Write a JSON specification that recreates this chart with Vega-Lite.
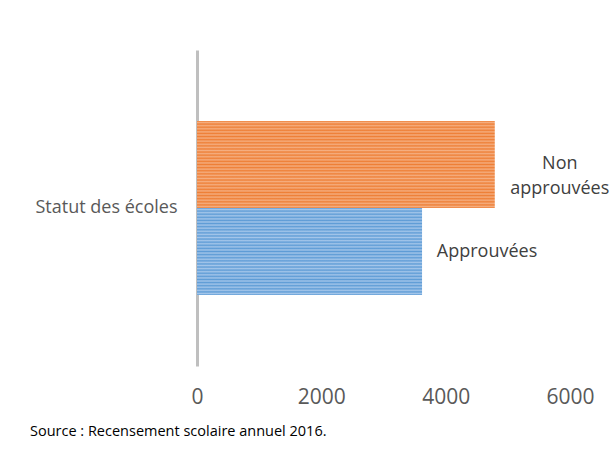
{
  "$schema": "https://vega.github.io/schema/vega-lite/v6.json",
  "width": 373,
  "height": 316,
  "autosize": {"type": "none"},
  "padding": {"left": 197, "top": 50, "right": 44, "bottom": 85},
  "background": "white",
  "config": {"view": {"stroke": null}, "font": "Open Sans"},
  "title": {
    "text": "Source : Recensement scolaire annuel 2016.",
    "orient": "bottom",
    "anchor": "start",
    "frame": "group",
    "dx": -167,
    "offset": 18,
    "fontSize": 14.5,
    "fontWeight": "normal",
    "color": "#000000",
    "font": "Open Sans"
  },
  "data": {
    "values": [
      {"statut": "Statut des écoles", "serie": "Non approuvées", "label": "Non\napprouvées", "valeur": 4790},
      {"statut": "Statut des écoles", "serie": "Approuvées", "label": "Approuvées", "valeur": 3620}
    ]
  },
  "encoding": {
    "y": {
      "field": "statut",
      "type": "nominal",
      "title": null,
      "scale": {"paddingInner": 0, "paddingOuter": 0.408},
      "axis": {
        "ticks": false,
        "domain": true,
        "domainColor": "#bfbfbf",
        "domainWidth": 3,
        "labelFontSize": 18,
        "labelColor": "#595959",
        "labelPadding": 20,
        "labelFont": "Open Sans"
      }
    },
    "yOffset": {
      "field": "serie",
      "type": "nominal",
      "scale": {"domain": ["Non approuvées", "Approuvées"], "paddingInner": 0, "paddingOuter": 0}
    },
    "x": {
      "field": "valeur",
      "type": "quantitative",
      "title": null,
      "scale": {"domain": [0, 6000], "nice": false},
      "axis": {
        "values": [0, 2000, 4000, 6000],
        "format": "d",
        "grid": false,
        "domain": false,
        "ticks": false,
        "labelFontSize": 21,
        "labelColor": "#595959",
        "labelPadding": 20,
        "labelFont": "Open Sans",
        "labelFlush": false
      }
    }
  },
  "layer": [
    {
      "transform": [{"filter": "datum.serie === 'Non approuvées'"}],
      "mark": {
        "type": "bar",
        "fill": {
          "gradient": "linear", "x1": 0, "y1": 0, "x2": 0, "y2": 1,
          "stops": [
            {"offset": 0, "color": "#EE7F36"}, {"offset": 0.0179, "color": "#F5AE80"},
            {"offset": 0.0357, "color": "#EE7F36"}, {"offset": 0.0536, "color": "#F5AE80"},
            {"offset": 0.0714, "color": "#EE7F36"}, {"offset": 0.0893, "color": "#F5AE80"},
            {"offset": 0.1071, "color": "#EE7F36"}, {"offset": 0.125, "color": "#F5AE80"},
            {"offset": 0.1429, "color": "#EE7F36"}, {"offset": 0.1607, "color": "#F5AE80"},
            {"offset": 0.1786, "color": "#EE7F36"}, {"offset": 0.1964, "color": "#F5AE80"},
            {"offset": 0.2143, "color": "#EE7F36"}, {"offset": 0.2321, "color": "#F5AE80"},
            {"offset": 0.25, "color": "#EE7F36"}, {"offset": 0.2679, "color": "#F5AE80"},
            {"offset": 0.2857, "color": "#EE7F36"}, {"offset": 0.3036, "color": "#F5AE80"},
            {"offset": 0.3214, "color": "#EE7F36"}, {"offset": 0.3393, "color": "#F5AE80"},
            {"offset": 0.3571, "color": "#EE7F36"}, {"offset": 0.375, "color": "#F5AE80"},
            {"offset": 0.3929, "color": "#EE7F36"}, {"offset": 0.4107, "color": "#F5AE80"},
            {"offset": 0.4286, "color": "#EE7F36"}, {"offset": 0.4464, "color": "#F5AE80"},
            {"offset": 0.4643, "color": "#EE7F36"}, {"offset": 0.4821, "color": "#F5AE80"},
            {"offset": 0.5, "color": "#EE7F36"}, {"offset": 0.5179, "color": "#F5AE80"},
            {"offset": 0.5357, "color": "#EE7F36"}, {"offset": 0.5536, "color": "#F5AE80"},
            {"offset": 0.5714, "color": "#EE7F36"}, {"offset": 0.5893, "color": "#F5AE80"},
            {"offset": 0.6071, "color": "#EE7F36"}, {"offset": 0.625, "color": "#F5AE80"},
            {"offset": 0.6429, "color": "#EE7F36"}, {"offset": 0.6607, "color": "#F5AE80"},
            {"offset": 0.6786, "color": "#EE7F36"}, {"offset": 0.6964, "color": "#F5AE80"},
            {"offset": 0.7143, "color": "#EE7F36"}, {"offset": 0.7321, "color": "#F5AE80"},
            {"offset": 0.75, "color": "#EE7F36"}, {"offset": 0.7679, "color": "#F5AE80"},
            {"offset": 0.7857, "color": "#EE7F36"}, {"offset": 0.8036, "color": "#F5AE80"},
            {"offset": 0.8214, "color": "#EE7F36"}, {"offset": 0.8393, "color": "#F5AE80"},
            {"offset": 0.8571, "color": "#EE7F36"}, {"offset": 0.875, "color": "#F5AE80"},
            {"offset": 0.8929, "color": "#EE7F36"}, {"offset": 0.9107, "color": "#F5AE80"},
            {"offset": 0.9286, "color": "#EE7F36"}, {"offset": 0.9464, "color": "#F5AE80"},
            {"offset": 0.9643, "color": "#EE7F36"}, {"offset": 0.9821, "color": "#F5AE80"},
            {"offset": 1, "color": "#EE7F36"}
          ]
        }
      }
    },
    {
      "transform": [{"filter": "datum.serie === 'Approuvées'"}],
      "mark": {
        "type": "bar",
        "fill": {
          "gradient": "linear", "x1": 0, "y1": 0, "x2": 0, "y2": 1,
          "stops": [
            {"offset": 0, "color": "#5E9CD6"}, {"offset": 0.0179, "color": "#A4C6EA"},
            {"offset": 0.0357, "color": "#5E9CD6"}, {"offset": 0.0536, "color": "#A4C6EA"},
            {"offset": 0.0714, "color": "#5E9CD6"}, {"offset": 0.0893, "color": "#A4C6EA"},
            {"offset": 0.1071, "color": "#5E9CD6"}, {"offset": 0.125, "color": "#A4C6EA"},
            {"offset": 0.1429, "color": "#5E9CD6"}, {"offset": 0.1607, "color": "#A4C6EA"},
            {"offset": 0.1786, "color": "#5E9CD6"}, {"offset": 0.1964, "color": "#A4C6EA"},
            {"offset": 0.2143, "color": "#5E9CD6"}, {"offset": 0.2321, "color": "#A4C6EA"},
            {"offset": 0.25, "color": "#5E9CD6"}, {"offset": 0.2679, "color": "#A4C6EA"},
            {"offset": 0.2857, "color": "#5E9CD6"}, {"offset": 0.3036, "color": "#A4C6EA"},
            {"offset": 0.3214, "color": "#5E9CD6"}, {"offset": 0.3393, "color": "#A4C6EA"},
            {"offset": 0.3571, "color": "#5E9CD6"}, {"offset": 0.375, "color": "#A4C6EA"},
            {"offset": 0.3929, "color": "#5E9CD6"}, {"offset": 0.4107, "color": "#A4C6EA"},
            {"offset": 0.4286, "color": "#5E9CD6"}, {"offset": 0.4464, "color": "#A4C6EA"},
            {"offset": 0.4643, "color": "#5E9CD6"}, {"offset": 0.4821, "color": "#A4C6EA"},
            {"offset": 0.5, "color": "#5E9CD6"}, {"offset": 0.5179, "color": "#A4C6EA"},
            {"offset": 0.5357, "color": "#5E9CD6"}, {"offset": 0.5536, "color": "#A4C6EA"},
            {"offset": 0.5714, "color": "#5E9CD6"}, {"offset": 0.5893, "color": "#A4C6EA"},
            {"offset": 0.6071, "color": "#5E9CD6"}, {"offset": 0.625, "color": "#A4C6EA"},
            {"offset": 0.6429, "color": "#5E9CD6"}, {"offset": 0.6607, "color": "#A4C6EA"},
            {"offset": 0.6786, "color": "#5E9CD6"}, {"offset": 0.6964, "color": "#A4C6EA"},
            {"offset": 0.7143, "color": "#5E9CD6"}, {"offset": 0.7321, "color": "#A4C6EA"},
            {"offset": 0.75, "color": "#5E9CD6"}, {"offset": 0.7679, "color": "#A4C6EA"},
            {"offset": 0.7857, "color": "#5E9CD6"}, {"offset": 0.8036, "color": "#A4C6EA"},
            {"offset": 0.8214, "color": "#5E9CD6"}, {"offset": 0.8393, "color": "#A4C6EA"},
            {"offset": 0.8571, "color": "#5E9CD6"}, {"offset": 0.875, "color": "#A4C6EA"},
            {"offset": 0.8929, "color": "#5E9CD6"}, {"offset": 0.9107, "color": "#A4C6EA"},
            {"offset": 0.9286, "color": "#5E9CD6"}, {"offset": 0.9464, "color": "#A4C6EA"},
            {"offset": 0.9643, "color": "#5E9CD6"}, {"offset": 0.9821, "color": "#A4C6EA"},
            {"offset": 1, "color": "#5E9CD6"}
          ]
        }
      }
    },
    {
      "mark": {
        "type": "text",
        "align": "center",
        "baseline": "middle",
        "dx": 65,
        "fontSize": 18,
        "lineBreak": "\n",
        "lineHeight": 25,
        "color": "#404040",
        "font": "Open Sans"
      },
      "encoding": {
        "text": {"field": "label", "type": "nominal"}
      }
    }
  ]
}
